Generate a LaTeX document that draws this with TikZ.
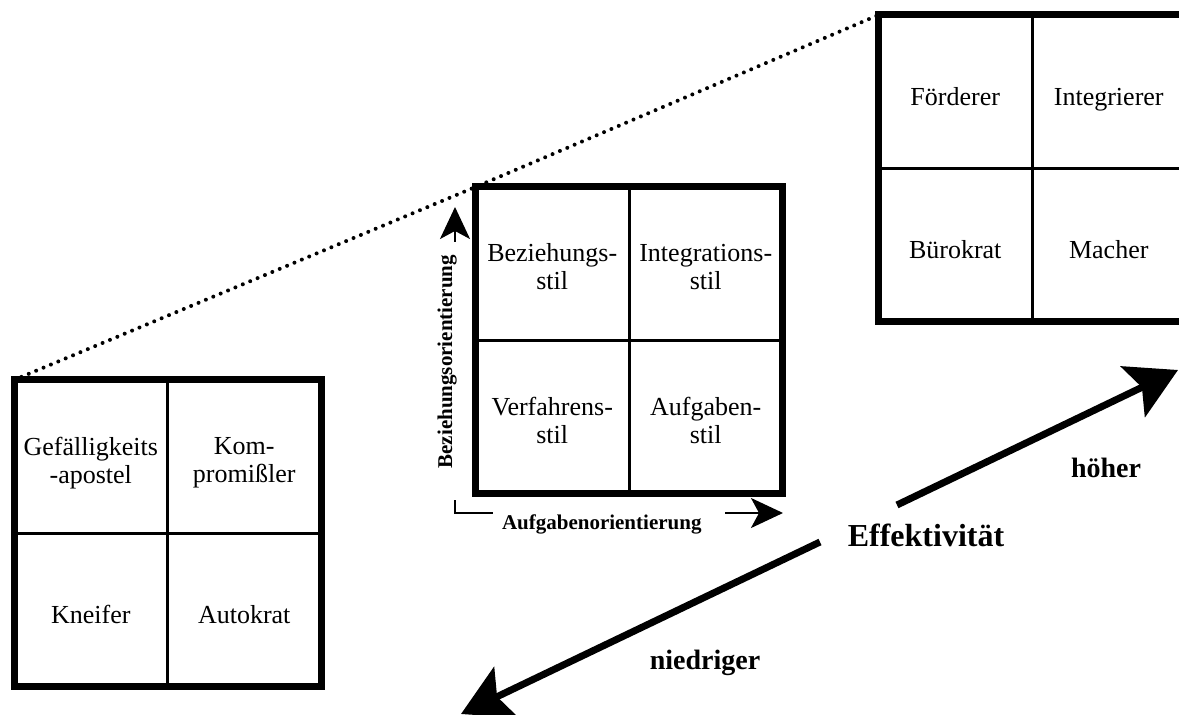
\documentclass[tikz,border=0pt]{standalone}
\usepackage{fontspec}
\setmainfont{Liberation Serif}
\usetikzlibrary{arrows.meta, calc}

\begin{document}
\begin{tikzpicture}[x=0.5pt, y=-0.5pt,
        quad/.style={draw, line width=3.5pt, minimum width=153.5pt, minimum height=153.5pt, inner sep=0pt, outer sep=0pt},
        divider/.style={line width=1.5pt},
        celltext/.style={font=\fontsize{13}{14}\selectfont, align=center, yshift=-3pt, execute at begin node={\vphantom{Äg}}},
        orientaxis/.style={line width=1pt, {Stealth[length=16pt, width=15pt, inset=4pt]}-{Stealth[length=16pt, width=15pt, inset=4pt]}},
        axlabel/.style={fill=white, font=\fontsize{10.5}{12}\selectfont\bfseries, inner ysep=4pt},
        effarrow/.style={line width=3.5pt, -{Stealth[length=25pt, width=28pt, inset=5pt]}},
        efflabel/.style={font=\fontsize{14}{16}\selectfont\bfseries, anchor=base},
      ]
        \useasboundingbox (0,0) rectangle (1179,715);
        \clip (0,0) rectangle (1179,715);

        % the three grids
        \node[quad] (lbox) at (167.5,533.5) {};
        \node[quad] (mbox) at (629,340.5) {};
        \node[quad] (rbox) at (1032,168.5) {};

        % dotted line over the top left corners
        \draw[line width=2pt, line cap=round, dash pattern=on 0pt off 4pt]
          (lbox.north west) -- (mbox.north west) -- (rbox.north west);

        % quadrants
        \foreach \b/\tl/\tr/\bl/\br in {
            lbox/{Gefälligkeits\\-apostel}/{Kom-\\promißler}/Kneifer/Autokrat,
            mbox/{Beziehungs-\\stil}/{Integrations-\\stil}/{Verfahrens-\\stil}/{Aufgaben-\\stil},
            rbox/Förderer/Integrierer/Bürokrat/Macher} {
          \draw[divider] (\b.north) -- (\b.south) (\b.west) -- (\b.east);
          \node[celltext] (\b-tl) at ($(\b.north west)!0.25!(\b.south east)$) {\tl};
          \node[celltext] (\b-tr) at ($(\b.north east)!0.25!(\b.south west)$) {\tr};
          \node[celltext] (\b-bl) at ($(\b.south west)!0.25!(\b.north east)$) {\bl};
          \node[celltext] (\b-br) at ($(\b.south east)!0.25!(\b.north west)$) {\br};
        }

        % orientation axes
        \coordinate (orig) at (455,513);
        \coordinate (ytip) at (455,207);
        \coordinate (xtip) at (783,513);
        \draw[orientaxis] (ytip) -- (orig) -- (xtip);
        \node[axlabel, rotate=90, anchor=base, text width=116pt, align=right, inner xsep=6.5pt]
          (ylab) at (452,371) {Beziehungsorientierung};
        \node[axlabel, anchor=base, text width=107pt, align=left, inner xsep=4.5pt]
          (xlab) at (609,530) {Aufgabenorientierung};

        % Effektivitaet
        \node[efflabel, font=\fontsize{16}{18}\selectfont\bfseries] (eff) at (926,547) {Effektivität};
        \node[efflabel] (hi) at (1106,478) {höher};
        \node[efflabel] (lo) at (705,670) {niedriger};
        \coordinate (effhi) at (897,505);
        \coordinate (efflo) at (820,542);
        \coordinate (hitip) at (1178,370);
        \coordinate (lotip) at (461,714);
        \draw[effarrow] (effhi) -- (hitip);
        \draw[effarrow] (efflo) -- (lotip);
      \end{tikzpicture}
\end{document}
